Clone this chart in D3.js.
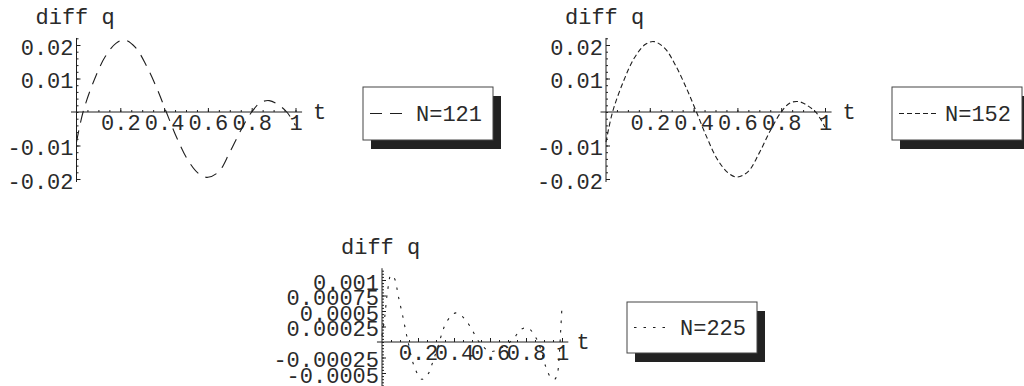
<!DOCTYPE html>
<html>
<head>
<meta charset="utf-8">
<script src="https://cdn.jsdelivr.net/npm/d3@7"></script>
<style>
  body { margin: 0; background: #fff; }
  text { font-family: "Liberation Mono", "DejaVu Sans Mono", monospace; fill: #2a2a2a; }
</style>
</head>
<body>
<svg id="chart" width="1024" height="386"></svg>
<script>
// sample times for the two smooth runs
const tA = [0, 0.03, 0.08, 0.13, 0.18, 0.22, 0.27, 0.32, 0.37, 0.41, 0.46, 0.51, 0.56, 0.60, 0.65, 0.70, 0.75, 0.80, 0.84, 0.88, 0.92, 0.96, 1.0];
const diff121 = [-0.009, 0, 0.0094, 0.0164, 0.0205, 0.0215, 0.0192, 0.0137, 0.0066, 0, -0.008, -0.0145, -0.0185, -0.0195, -0.0178, -0.012, -0.0055, 0, 0.0028, 0.0034, 0.0022, 0, -0.004];
const diff152 = [-0.009, 0, 0.0092, 0.0162, 0.0202, 0.021, 0.0189, 0.0136, 0.0067, 0.0005, -0.0075, -0.0143, -0.0183, -0.0194, -0.0177, -0.0122, -0.0056, 0, 0.0027, 0.0031, 0.0019, -0.0002, -0.0045];

const tC = [0, 0.015, 0.03, 0.05, 0.07, 0.09, 0.115, 0.145, 0.18, 0.22, 0.255, 0.28, 0.31, 0.36, 0.41, 0.45, 0.49, 0.54, 0.6, 0.66, 0.73, 0.77, 0.81, 0.855, 0.88, 0.91, 0.94, 0.96, 0.975, 0.985, 0.993, 1.0];
const diff225 = [0.0001, 0.0004, 0.0008, 0.00108, 0.00102, 0.00075, 0.00042, 0, -0.0004, -0.0006, -0.00052, -0.00034, -0.00008, 0.00033, 0.00047, 0.0004, 0.00025, 0, -0.00015, -0.0001, 0.00005, 0.0002, 0.00023, 0.00007, -0.0001, -0.0004, -0.00058, -0.0006, -0.0005, -0.0002, 0.0002, 0.00058];

const xTicks = [0.2, 0.4, 0.6, 0.8, 1];
const xTickLabels = ["0.2", "0.4", "0.6", "0.8", "1"];
const yTicksAB = [-0.02, -0.01, 0.01, 0.02];
const yTickLabelsAB = ["-0.02", "-0.01", "0.01", "0.02"];
const yTicksC = [-0.0005, -0.00025, 0.00025, 0.0005, 0.00075, 0.001];
const yTickLabelsC = ["-0.0005", "-0.00025", "0.00025", "0.0005", "0.00075", "0.001"];
const legendLabels = ["N=121", "N=152", "N=225"];

const svg = d3.select("#chart");
const ink = "#1e1e1e";

const panels = [
  { t: tA, v: diff121, label: legendLabels[0], dash: "12,8",
    xr: [76.5, 295.5], xd: [-0.025, 1.03], yr: [179, 45], yd: [-0.0209, 0.0221],
    yTicks: yTicksAB, yLabels: yTickLabelsAB, yMinor: 0.002,
    legend: [363, 87, 130, 53] },
  { t: tA, v: diff152, label: legendLabels[1], dash: "5,3",
    xr: [606, 825], xd: [-0.025, 1.03], yr: [179, 45], yd: [-0.0209, 0.0221],
    yTicks: yTicksAB, yLabels: yTickLabelsAB, yMinor: 0.002,
    legend: [892, 87, 130, 53] },
  { t: tC, v: diff225, label: legendLabels[2], dash: "2.5,7",
    xr: [382, 562], xd: [-0.028, 1.035], yr: [373, 280], yd: [-0.0008, 0.00119],
    yTicks: yTicksC, yLabels: yTickLabelsC, yMinor: 0.00005,
    legend: [627, 302, 130, 51] }
];

panels.forEach(p => {
  const y0 = p === panels[2] ? [-0.0005, 0.001] : [-0.02, 0.02];
  const x = d3.scaleLinear().domain([0, 1]).range(p.xr);
  const y = d3.scaleLinear().domain(y0).range(p.yr);
  const g = svg.append("g");

  // x axis, small ticks pointing up
  const xMinor = d3.range(0.05, 1.001, 0.05);
  g.append("g")
    .attr("transform", `translate(0,${y(0)})`)
    .call(d3.axisBottom(x).tickValues(xMinor).tickSize(-2).tickFormat(""))
    .call(a => a.select(".domain").remove())
    .selectAll("line").attr("stroke", ink);
  g.append("g")
    .attr("transform", `translate(0,${y(0)})`)
    .call(d3.axisBottom(x).tickValues(xTicks).tickSize(-4).tickFormat((d, i) => xTickLabels[i]))
    .call(a => a.select(".domain").remove())
    .call(a => a.selectAll("line").attr("stroke", ink))
    .call(a => a.selectAll("text")
      .attr("y", 18).attr("dy", null)
      .style("font-size", "22px").style("font-family", "Liberation Mono").attr("fill", "#2a2a2a"));
  g.append("line")
    .attr("x1", x(p.xd[0])).attr("x2", x(p.xd[1]))
    .attr("y1", y(0)).attr("y2", y(0))
    .attr("stroke", ink);
  g.append("text")
    .attr("x", x(1.08)).attr("y", y(0) + 7)
    .style("font-size", "22px")
    .text("t");

  // y axis
  const yMinor = d3.range(Math.ceil(p.yd[0] / p.yMinor) * p.yMinor, p.yd[1], p.yMinor);
  g.append("g")
    .attr("transform", `translate(${x(0)},0)`)
    .call(d3.axisLeft(y).tickValues(yMinor).tickSize(-2).tickFormat(""))
    .call(a => a.select(".domain").remove())
    .selectAll("line").attr("stroke", ink);
  g.append("g")
    .attr("transform", `translate(${x(0)},0)`)
    .call(d3.axisLeft(y).tickValues(p.yTicks).tickSize(-4).tickFormat((d, i) => p.yLabels[i]))
    .call(a => a.select(".domain").remove())
    .call(a => a.selectAll("line").attr("stroke", ink))
    .call(a => a.selectAll("text")
      .attr("x", -3).attr("dy", "0.42em")
      .style("font-size", "22px").style("font-family", "Liberation Mono").attr("fill", "#2a2a2a"));
  g.append("line")
    .attr("x1", x(0)).attr("x2", x(0))
    .attr("y1", y(p.yd[0])).attr("y2", y(p.yd[1]))
    .attr("stroke", ink);
  g.append("text")
    .attr("x", x(0) - 41).attr("y", y(p.yd[1]) - 14)
    .style("font-size", "22px")
    .text("diff q");

  // the difference curve
  const line = d3.line()
    .x((d, i) => x(p.t[i]))
    .y(d => y(d))
    .curve(d3.curveCatmullRom.alpha(0.5));
  g.append("path")
    .attr("d", line(p.v))
    .attr("fill", "none")
    .attr("stroke", ink)
    .attr("stroke-width", 1.1)
    .attr("stroke-dasharray", p.dash);

  // legend with drop shadow
  const [lx, ly, lw, lh] = p.legend;
  g.append("rect")
    .attr("x", lx + 8).attr("y", ly + 9).attr("width", lw).attr("height", lh)
    .attr("fill", "#222");
  g.append("rect")
    .attr("x", lx).attr("y", ly).attr("width", lw).attr("height", lh)
    .attr("fill", "#fff").attr("stroke", "#444").attr("stroke-width", 1);
  g.append("line")
    .attr("x1", lx + 7).attr("x2", lx + 45)
    .attr("y1", ly + lh / 2).attr("y2", ly + lh / 2)
    .attr("stroke", ink).attr("stroke-width", 1.1)
    .attr("stroke-dasharray", p.dash);
  g.append("text")
    .attr("x", lx + 53).attr("y", ly + lh / 2 + 7)
    .style("font-size", "22px")
    .text(p.label);
});
</script>
</body>
</html>
